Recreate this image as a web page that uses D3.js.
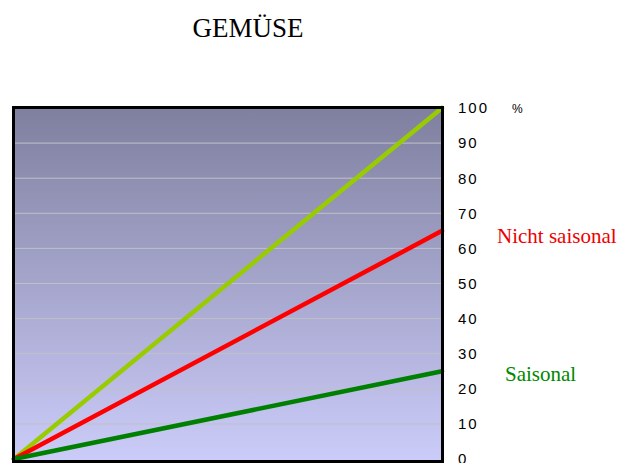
<!DOCTYPE html>
<html>
<head>
<meta charset="utf-8">
<script src="https://cdn.jsdelivr.net/npm/d3@7"></script>
<style>
  body { margin: 0; background: #fff; }
</style>
</head>
<body>
<div id="chart"></div>
<script>
// data
var xPoints = [0, 1];
var nichtSaisonal = [0, 65];
var saisonal = [0, 25];
var gesamt = [0, 100];
var yTicks = [0, 10, 20, 30, 40, 50, 60, 70, 80, 90, 100];

var width = 623, height = 463;
var plotLeft = 14, plotRight = 442, plotTop = 108, plotBottom = 459;
var serif = "'Liberation Serif', 'Times New Roman', serif";
var sans = "'Liberation Sans', Arial, sans-serif";

var svg = d3.select('#chart').append('svg')
  .attr('width', width).attr('height', height);

var x = d3.scaleLinear().domain([0, 1]).range([plotLeft, plotRight]);
var y = d3.scaleLinear().domain([0, 100]).range([plotBottom, plotTop]);

// background gradient
var grad = svg.append('defs').append('linearGradient')
  .attr('id', 'bg').attr('x1', 0).attr('y1', 0).attr('x2', 0).attr('y2', 1);
grad.append('stop').attr('offset', '0%').attr('stop-color', '#7f809f');
grad.append('stop').attr('offset', '100%').attr('stop-color', '#ccccfa');

svg.append('rect')
  .attr('x', plotLeft).attr('y', plotTop)
  .attr('width', plotRight - plotLeft).attr('height', plotBottom - plotTop + 3)
  .attr('fill', 'url(#bg)');

// gridlines
svg.selectAll('.grid').data(yTicks.slice(1, -1)).enter().append('line')
  .attr('x1', plotLeft).attr('x2', plotRight)
  .attr('y1', function(d) { return y(d); })
  .attr('y2', function(d) { return y(d); })
  .attr('stroke', '#c0c0c8').attr('stroke-width', 1);

// y axis on the right
var axis = d3.axisRight(y).tickValues(yTicks).tickSize(0).tickPadding(16);
var g = svg.append('g').attr('transform', 'translate(' + plotRight + ',0)').call(axis);
g.select('.domain').remove();
g.selectAll('text')
  .attr('font-family', sans)
  .attr('font-size', 15)
  .attr('letter-spacing', 2)
  .attr('fill', '#000');

svg.append('text')
  .attr('x', 512).attr('y', y(100) + 5)
  .attr('font-family', sans)
  .attr('font-size', 12)
  .text('%');

// lines
var line = d3.line()
  .x(function(d, i) { return x(xPoints[i]); })
  .y(function(d) { return y(d); });

var series = [
  { values: gesamt, color: '#99cc00' },
  { values: nichtSaisonal, color: '#ff0000' },
  { values: saisonal, color: '#008000' }
];
series.forEach(function(s) {
  svg.append('path').datum(s.values)
    .attr('d', line)
    .attr('fill', 'none')
    .attr('stroke', s.color)
    .attr('stroke-width', 4.5)
    .attr('stroke-linecap', 'round');
});

// frame
svg.append('rect')
  .attr('x', plotLeft - 0.5).attr('y', plotTop - 0.5)
  .attr('width', plotRight - plotLeft + 1).attr('height', plotBottom - plotTop + 3)
  .attr('fill', 'none').attr('stroke', '#000').attr('stroke-width', 3);

// labels
svg.append('text')
  .attr('x', 497).attr('y', 243)
  .attr('font-family', serif)
  .attr('font-size', 21).attr('fill', '#ee0000')
  .text('Nicht saisonal');

svg.append('text')
  .attr('x', 505).attr('y', 381)
  .attr('font-family', serif)
  .attr('font-size', 21).attr('fill', '#008800')
  .text('Saisonal');

svg.append('text')
  .attr('x', 248).attr('y', 37)
  .attr('text-anchor', 'middle')
  .attr('font-family', serif)
  .attr('font-size', 27)
  .text('GEMÜSE');
</script>
</body>
</html>
